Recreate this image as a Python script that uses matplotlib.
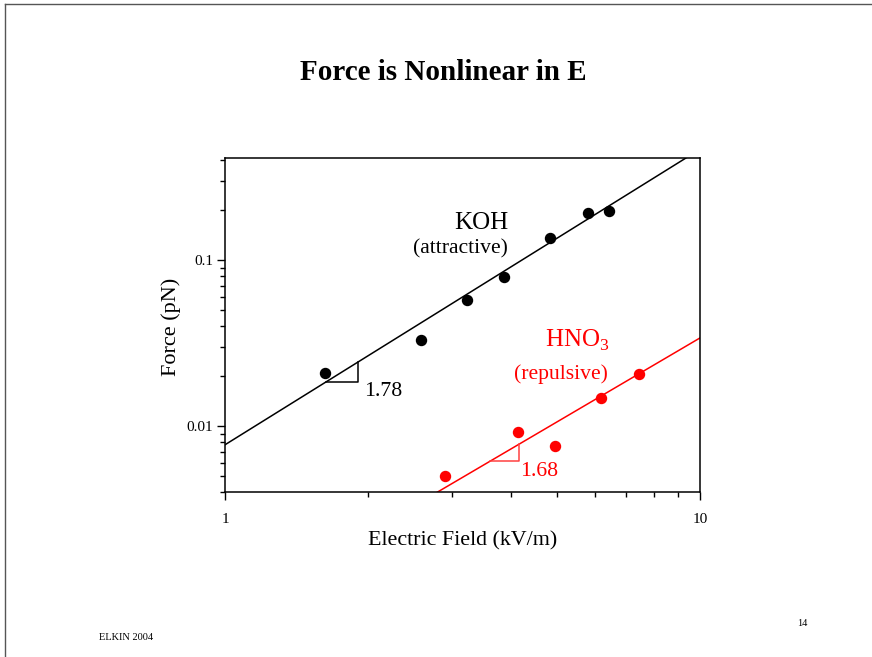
import matplotlib
matplotlib.use("Agg")
from matplotlib import pyplot as plt
from matplotlib.lines import Line2D
from matplotlib.ticker import LogLocator, NullFormatter, FixedLocator, FixedFormatter
import numpy as np

plt.rcParams['font.family'] = ['Liberation Serif', 'DejaVu Serif']
plt.rcParams['mathtext.fontset'] = 'custom'
plt.rcParams['mathtext.rm'] = 'Liberation Serif'

# KOH (attractive)
koh_field = [1.62, 2.59, 3.23, 3.87, 4.83, 5.81, 6.43]
koh_force = [0.0208, 0.0330, 0.0574, 0.0790, 0.136, 0.192, 0.197]
koh_coef, koh_slope = 0.0077, 1.78

# HNO3 (repulsive)
hno3_field = [2.90, 4.13, 4.96, 6.19, 7.43]
hno3_force = [0.0050, 0.0092, 0.0076, 0.0148, 0.0205]
hno3_coef, hno3_slope = 0.000708, 1.68

fig = plt.figure(figsize=(8.72, 6.57), dpi=100)
ax = fig.add_axes([225/872, 1-492/657, 475/872, 334/657])

xx = np.logspace(0, 1, 200)
ax.plot(xx, koh_coef * xx**koh_slope, color='black', lw=1.1)
ax.plot(xx, hno3_coef * xx**hno3_slope, color='red', lw=1.1)
ax.plot(koh_field, koh_force, 'o', color='black', ms=7.2)
ax.plot(hno3_field, hno3_force, 'o', color='red', ms=7.2)

# slope triangles
tx = [1.63, 1.91]
ty = [koh_coef * t**koh_slope for t in tx]
ax.plot([tx[0], tx[1], tx[1]], [ty[0], ty[0], ty[1]], color='black', lw=1.1)
tx = [3.62, 4.16]
ty = [hno3_coef * t**hno3_slope for t in tx]
ax.plot([tx[0], tx[1], tx[1]], [ty[0], ty[0], ty[1]], color='#ff4040', lw=1.1)

ax.set_xscale('log')
ax.set_yscale('log')
ax.set_xlim(1, 10)
ax.set_ylim(0.004, 0.411)

ax.xaxis.set_major_locator(FixedLocator([1, 10]))
ax.xaxis.set_major_formatter(FixedFormatter(['1', '10']))
ax.xaxis.set_minor_locator(LogLocator(base=10, subs=np.arange(2, 10)))
ax.xaxis.set_minor_formatter(NullFormatter())
ax.yaxis.set_major_locator(FixedLocator([0.01, 0.1]))
ax.yaxis.set_major_formatter(FixedFormatter(['0.01', '0.1']))
ax.yaxis.set_minor_locator(LogLocator(base=10, subs=np.arange(2, 10)))
ax.yaxis.set_minor_formatter(NullFormatter())
ax.tick_params(which='major', direction='out', length=6, width=1, labelsize=11)
ax.tick_params(axis='x', which='major', pad=9)
ax.tick_params(axis='y', which='major', pad=2.5)
ax.tick_params(which='minor', direction='out', length=3.5, width=1)
for s in ax.spines.values():
    s.set_linewidth(1.1)

ax.set_xlabel('Electric Field (kV/m)', fontsize=15.8)
ax.set_ylabel('Force (pN)', fontsize=16)
ax.xaxis.set_label_coords(0.5, -0.117)
ax.yaxis.set_label_coords(-0.092, 0.494)

ax.text(481/872, 1-223/657, 'KOH', transform=fig.transFigure, fontsize=18, ha='center', va='center')
ax.text(460/872, 1-249/657, '(attractive)', transform=fig.transFigure, fontsize=15.6, ha='center', va='center')
ax.text(577/872, 1-340/657, 'HNO$_3$', transform=fig.transFigure, fontsize=18, ha='center', va='center', color='red')
ax.text(561/872, 1-374/657, '(repulsive)', transform=fig.transFigure, fontsize=15.6, ha='center', va='center', color='red')
ax.text(383/872, 1-392/657, '1.78', transform=fig.transFigure, fontsize=15.7, ha='center', va='center')
ax.text(539/872, 1-471/657, '1.68', transform=fig.transFigure, fontsize=15.7, ha='center', va='center', color='red')

fig.text(443/872, 1-72/657, 'Force is Nonlinear in E', fontsize=21, fontweight='bold', ha='center', va='center')
fig.text(126/872, 1-638/657, 'ELKIN 2004', fontsize=7.5, ha='center', va='center')
fig.text(802/872, 1-624/657, '14', fontsize=7.5, ha='center', va='center')

# slide frame
fig.add_artist(Line2D([5/872, 5/872], [0, 1-4/657], transform=fig.transFigure, color='#555555', lw=1))
fig.add_artist(Line2D([5/872, 1], [1-4/657, 1-4/657], transform=fig.transFigure, color='#555555', lw=1))

fig.savefig('out.png', dpi=100)
